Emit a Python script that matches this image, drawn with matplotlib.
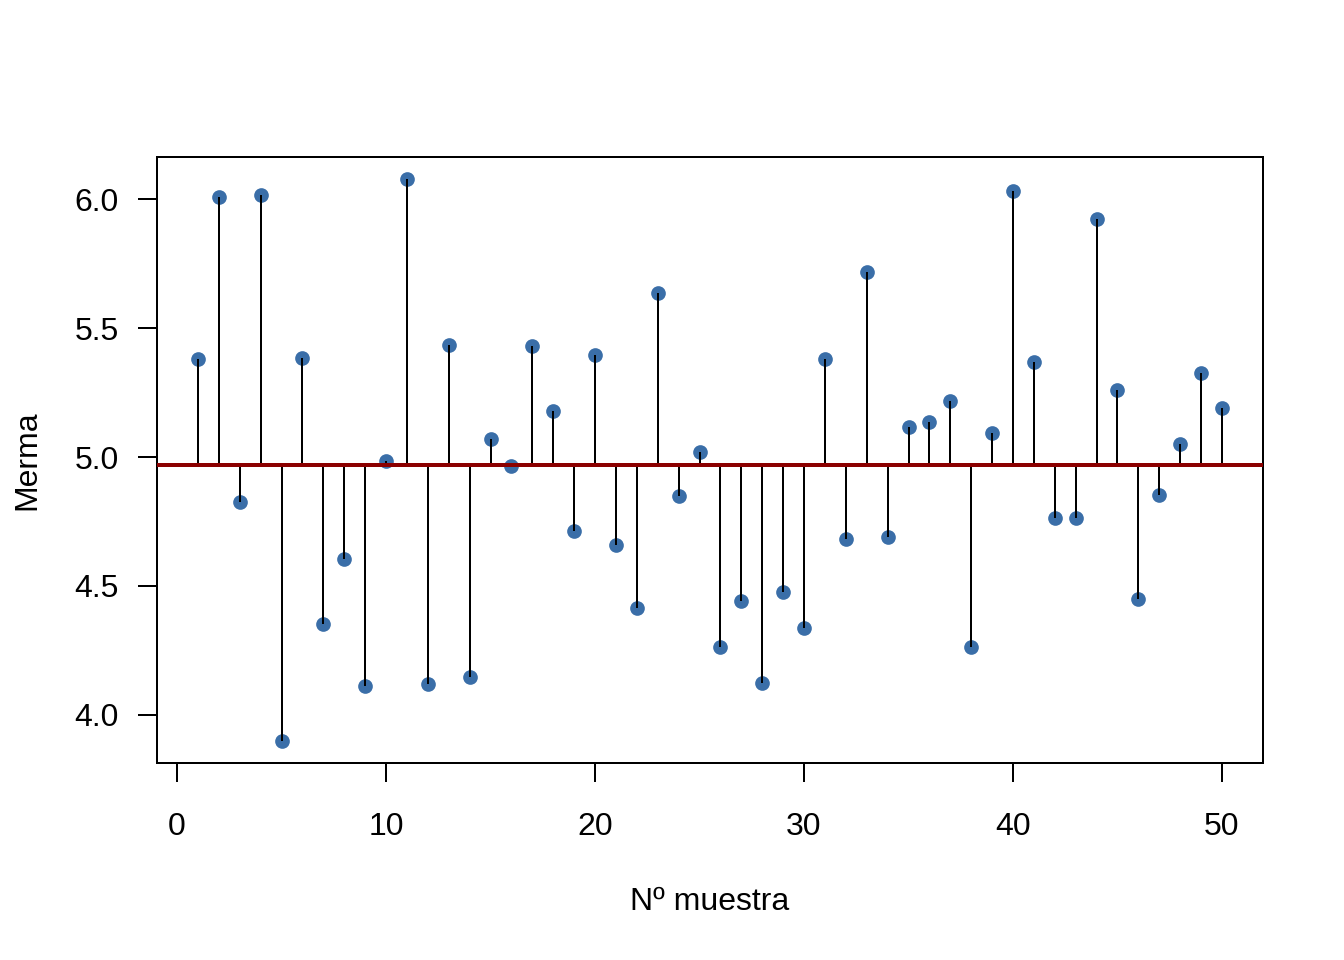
import numpy as np
import matplotlib.pyplot as plt

plt.rcParams['font.family'] = ['Liberation Sans', 'DejaVu Sans']

# valores de merma por muestra
muestra = np.arange(1, 51)
merma = [5.380, 6.008, 4.826, 6.016, 3.899, 5.384, 4.353, 4.605, 4.112, 4.984,
         6.078, 4.120, 5.434, 4.147, 5.070, 4.965, 5.430, 5.178, 4.713, 5.395,
         4.659, 4.415, 5.636, 4.849, 5.019, 4.264, 4.442, 4.124, 4.477, 4.337,
         5.380, 4.682, 5.717, 4.690, 5.116, 5.136, 5.217, 4.264, 5.093, 6.031,
         5.368, 4.764, 4.764, 5.926, 5.260, 4.450, 4.853, 5.050, 5.326, 5.190]
media = 4.969

xticks = [0, 10, 20, 30, 40, 50]
yticks = [4.0, 4.5, 5.0, 5.5, 6.0]

fig = plt.figure(figsize=(7, 5), dpi=192)
ax = fig.add_axes([0.1168, 0.2052, 0.9397 - 0.1168, 0.8365 - 0.2052])

ax.scatter(muestra, merma, s=5.5**2, color='#3A6EA8', zorder=2, linewidths=0)
ax.vlines(muestra, media, merma, color='black', lw=0.75, zorder=3)
ax.axhline(media, color='#8B0000', lw=1.5, zorder=4)

ax.set_xlim(-0.96, 51.96)
ax.set_ylim(3.812, 6.165)
ax.set_xticks(xticks)
ax.set_xticklabels([str(t) for t in xticks])
ax.set_yticks(yticks)
ax.set_yticklabels([f"{t:.1f}" for t in yticks])

for s in ax.spines.values():
    s.set_linewidth(0.75)
ax.tick_params(axis='both', length=7.2, width=0.75, labelsize=12)
ax.tick_params(axis='x', pad=11)
ax.tick_params(axis='y', pad=7)

ax.set_xlabel("Nº muestra", fontsize=12, labelpad=17)
ax.set_ylabel("Merma", fontsize=12, labelpad=12)

fig.savefig("out.png", dpi=192)
